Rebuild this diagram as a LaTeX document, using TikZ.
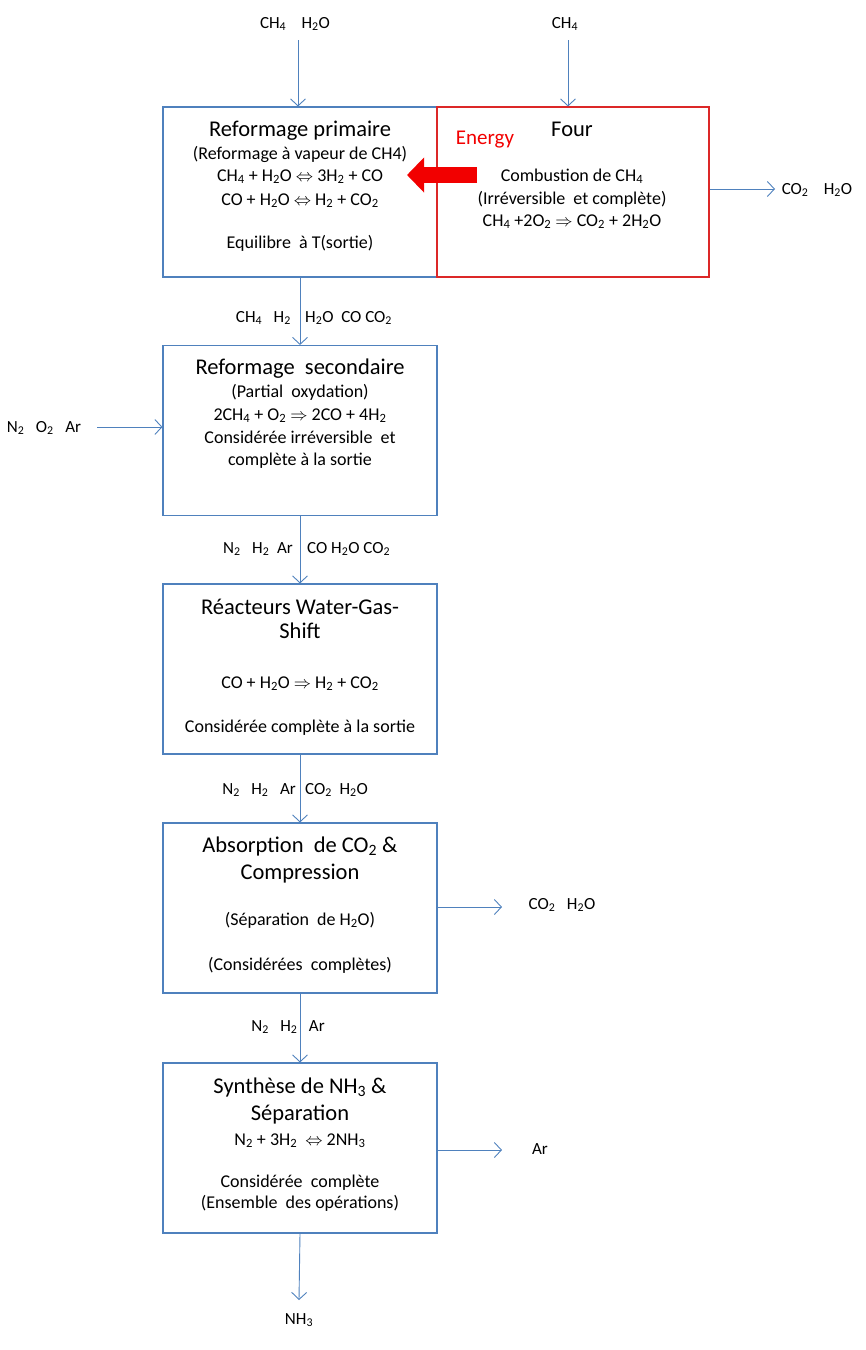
\documentclass[tikz,border=0pt]{standalone}
\usepackage{fontspec}
\setmainfont{Carlito}
\usetikzlibrary{arrows.meta}
\definecolor{lblue}{HTML}{4F81BD}
\definecolor{ovenred}{RGB}{220,40,40}
\definecolor{ared}{HTML}{F20000}
\newcommand\ssub[1]{\textsubscript{#1}}
\begin{document}
\begin{tikzpicture}[x=1pt,y=-1pt,
 box/.style={draw=lblue, line width=1.1pt, minimum width=274pt, minimum height=170pt, inner sep=0pt},
 fourbox/.style={draw=ovenred, line width=1.1pt, minimum width=272pt, minimum height=170pt, inner sep=0pt},
 flow/.style={draw=lblue, line width=0.9pt, -{Straight Barb[length=7pt,width=15pt]}},
 ttl/.style={font=\fontsize{22.5}{26}\selectfont, inner sep=0pt, anchor=base},
 txt/.style={font=\fontsize{18}{21}\selectfont, inner sep=0pt, anchor=base},
 lbl/.style={font=\fontsize{17}{20}\selectfont, inner sep=0pt, anchor=base}]
\useasboundingbox (0,0) rectangle (866,1350);
% boxes
\node[box] (p1) at (300,192) {};
\node[box] (p2) at (300,430.5) {};
\node[box] (p3) at (300,669) {};
\node[box] (p4) at (300,908) {};
\node[box] (p5) at (300,1148) {};
\node[fourbox] (four) at (573,192) {};
% inputs / outputs
\coordinate (i1) at (298,40);
\coordinate (i2) at (568,40);
\coordinate (i3) at (97,427);
\coordinate (o1) at (775,189);
\coordinate (o4) at (502,907);
\coordinate (o5) at (502,1150);
\coordinate (o6) at (299,1300);
\draw[flow] (i1) -- (i1 |- p1.north);
\draw[flow] (i2) -- (i2 |- four.north);
\draw[flow] (o1 -| four.east) -- (o1);
\draw[flow] (p1.south) -- (p2.north);
\draw[flow] (i3) -- (i3 -| p2.west);
\draw[flow] (p2.south) -- (p3.north);
\draw[flow] (p3.south) -- (p4.north);
\draw[flow] (o4 -| p4.east) -- (o4);
\draw[flow] (p4.south) -- (p5.north);
\draw[flow] (o5 -| p5.east) -- (o5);
\draw[flow] (p5.south) -- (o6);
% energy arrow
\coordinate (e1) at (477,175);
\coordinate (e2) at (407,175);
\draw[ared, line width=16pt, -{Triangle[length=17pt,width=34pt]}] (e1) -- (e2);
% stream labels
\node[lbl] (t1) at (295,28) {CH\ssub4\ \ \ \ H\ssub2O};
\node[lbl] (t2) at (565,28) {CH\ssub4};
\node[lbl] (t3) at (817,194) {CO\ssub2\ \ \ \ H\ssub2O};
\node[lbl, anchor=base east] (t4a) at (291,322) {CH\ssub4\ \ \ H\ssub2};
\node[lbl, anchor=base west] (t4b) at (305,322) {H\ssub2O\ \ CO CO\ssub2};
\node[lbl] (t5) at (44,432) {N\ssub2\ \ \ O\ssub2\ \ \ Ar};
\node[lbl, anchor=base east] (t6a) at (293,553) {N\ssub2\ \ \ H\ssub2\ \ Ar};
\node[lbl, anchor=base west] (t6b) at (307,553) {CO H\ssub2O CO\ssub2};
\node[lbl, anchor=base east] (t7a) at (296,794) {N\ssub2\ \ \ H\ssub2\ \ \ Ar};
\node[lbl, anchor=base west] (t7b) at (305,794) {CO\ssub2\ \ H\ssub2O};
\node[lbl] (t8) at (562,909) {CO\ssub2\ \ \ H\ssub2O};
\node[lbl] (t9) at (288,1031) {N\ssub2\ \ \ H\ssub2\ \ \ Ar};
\node[lbl] (t10) at (540,1154) {Ar};
\node[lbl] (t11) at (299,1324) {NH\ssub3};
% primaire
\node[ttl] (a1) at (300,136) {Reformage primaire};
\node[txt] (a2) at (300,159) {(Reformage à vapeur de CH4)};
\node[txt] (a3) at (300,181) {CH\ssub4 + H\ssub2O $\Leftrightarrow$ 3H\ssub2 + CO};
\node[txt] (a4) at (300,205) {CO + H\ssub2O $\Leftrightarrow$ H\ssub2 + CO\ssub2};
\node[txt] (a5) at (300,248) {Equilibre\ \ à T(sortie)};
% four
\node[ttl] (b1) at (572,136) {Four};
\node[ttl, text=ared, font=\fontsize{21}{24}\selectfont] (b0) at (485,144) {Energy};
\node[txt] (b2) at (572,181) {Combustion de CH\ssub4};
\node[txt] (b3) at (572,204) {(Irréversible\ \ et complète)};
\node[txt] (b4) at (572,226) {CH\ssub4 +2O\ssub2 $\Rightarrow$ CO\ssub2 + 2H\ssub2O};
% secondaire
\node[ttl] (c1) at (300,374) {Reformage\ \ secondaire};
\node[txt] (c2) at (300,397) {(Partial\ \ oxydation)};
\node[txt] (c3) at (300,420) {2CH\ssub4 + O\ssub2 $\Rightarrow$ 2CO + 4H\ssub2};
\node[txt] (c4) at (300,443) {Considérée irréversible\ \ et};
\node[txt] (c5) at (300,465) {complète à la sortie};
% WGS
\node[ttl] (d1) at (300,614) {Réacteurs Water-Gas-};
\node[ttl] (d2) at (300,638) {Shift};
\node[txt] (d3) at (300,688) {CO + H\ssub2O $\Rightarrow$ H\ssub2 + CO\ssub2};
\node[txt] (d4) at (300,732) {Considérée complète à la sortie};
% absorption
\node[ttl] (f1) at (300,852) {Absorption\ \ de CO\ssub2 \&};
\node[ttl] (f2) at (300,879) {Compression};
\node[txt] (f3) at (300,925) {(Séparation\ \ de H\ssub2O)};
\node[txt] (f4) at (300,970) {(Considérées\ \ complètes)};
% synthese
\node[ttl] (g1) at (300,1093) {Synthèse de NH\ssub3 \&};
\node[ttl] (g2) at (300,1120) {Séparation};
\node[txt] (g3) at (300,1145) {N\ssub2 + 3H\ssub2\ \ $\Leftrightarrow$ 2NH\ssub3};
\node[txt] (g4) at (300,1187) {Considérée\ \ complète};
\node[txt] (g5) at (300,1208) {(Ensemble\ \ des opérations)};
\end{tikzpicture}
\end{document}
